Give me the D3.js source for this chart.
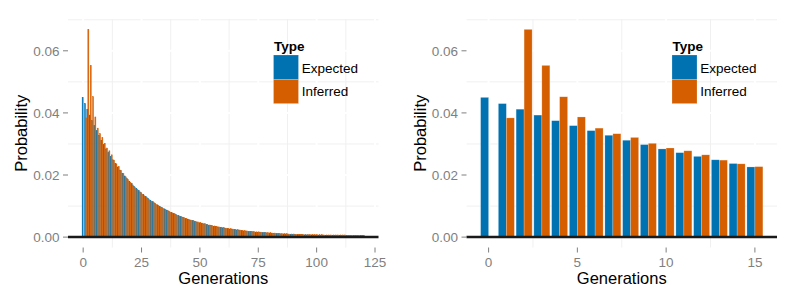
<!DOCTYPE html>
<html>
<head>
<meta charset="utf-8">
<script src="https://cdn.jsdelivr.net/npm/d3@7"></script>
<style>
  body { margin: 0; background: #fff; }
  svg { display: block; font-family: "Liberation Sans", Arial, sans-serif; }
</style>
</head>
<body>
<svg id="chart" width="797" height="299"></svg>
<script>
// probability per generation
const expected = [
  0.0450, 0.0430, 0.0412, 0.0393, 0.0375, 0.0359, 0.0343, 0.0328, 0.0312, 0.0298,
  0.0284, 0.0272, 0.0260, 0.0249, 0.0237, 0.0226, 0.0216, 0.0206, 0.0197, 0.0188,
  0.0180, 0.0172, 0.0164, 0.0157, 0.0150, 0.0143, 0.0137, 0.0131, 0.0125, 0.0119,
  0.0114, 0.0109, 0.0104, 0.0099, 0.0095, 0.0091, 0.0087, 0.0083, 0.0079, 0.0076,
  0.0072, 0.0069, 0.0066, 0.0063, 0.0060, 0.0058, 0.0055, 0.0053, 0.0050, 0.0048,
  0.0046, 0.0044, 0.0042, 0.0040, 0.0038, 0.0037, 0.0035, 0.0034, 0.0032, 0.0031,
  0.0030, 0.0028, 0.0027, 0.0026, 0.0025, 0.0024, 0.0023, 0.0022, 0.0021, 0.0020,
  0.0019, 0.0018, 0.0018, 0.0017, 0.0016, 0.0016, 0.0015, 0.0014, 0.0014, 0.0013,
  0.0013, 0.0012, 0.0012, 0.0011, 0.0011, 0.0010, 0.0010, 0.0010, 0.0009, 0.0009,
  0.0009, 0.0008, 0.0008, 0.0008, 0.0008, 0.0007, 0.0007, 0.0007, 0.0007, 0.0007,
  0.0006, 0.0006, 0.0006, 0.0006, 0.0006, 0.0006, 0.0006, 0.0006, 0.0006, 0.0006,
  0.0006, 0.0005, 0.0005, 0.0005, 0.0005, 0.0005, 0.0005, 0.0005, 0.0005, 0.0005,
  0.0005
];

const inferred = [
  0.0000, 0.0384, 0.0669, 0.0553, 0.0452, 0.0387, 0.0351, 0.0333, 0.0321, 0.0302,
  0.0287, 0.0278, 0.0265, 0.0248, 0.0236, 0.0227, 0.0215, 0.0204, 0.0194, 0.0185,
  0.0176, 0.0168, 0.0160, 0.0153, 0.0146, 0.0139, 0.0133, 0.0127, 0.0121, 0.0116,
  0.0111, 0.0106, 0.0101, 0.0097, 0.0093, 0.0089, 0.0085, 0.0081, 0.0078, 0.0075,
  0.0071, 0.0068, 0.0065, 0.0063, 0.0060, 0.0057, 0.0055, 0.0053, 0.0051, 0.0049,
  0.0047, 0.0045, 0.0043, 0.0041, 0.0039, 0.0038, 0.0036, 0.0035, 0.0033, 0.0032,
  0.0031, 0.0029, 0.0028, 0.0027, 0.0026, 0.0025, 0.0024, 0.0023, 0.0022, 0.0021,
  0.0020, 0.0019, 0.0019, 0.0018, 0.0017, 0.0017, 0.0016, 0.0015, 0.0015, 0.0014,
  0.0014, 0.0013, 0.0013, 0.0012, 0.0012, 0.0011, 0.0011, 0.0011, 0.0010, 0.0010,
  0.0010, 0.0009, 0.0009, 0.0009, 0.0009, 0.0009, 0.0008, 0.0008, 0.0008, 0.0008,
  0.0008, 0.0008, 0.0008, 0.0007, 0.0007, 0.0007, 0.0007, 0.0007, 0.0007, 0.0007,
  0.0007, 0.0007, 0.0007, 0.0006, 0.0006, 0.0006, 0.0006, 0.0006, 0.0006, 0.0006,
  0.0006
];

const seriesNames = ["Expected", "Inferred"];
const seriesColors = ["#0072B2", "#D55E00"];
const yTicks = [0, 0.02, 0.04, 0.06];
const xTicksFull = [0, 25, 50, 75, 100, 125];
const xTicksZoom = [0, 5, 10, 15];

const svg = d3.select("#chart");
const barW = 0.9;
const panelTop = 19, panelBottom = 247.5, panelWidth = 310.5;

// ggplot-style 5% padding
function expand(lo, hi) {
  const pad = (hi - lo) * 0.05;
  return [lo - pad, hi + pad];
}

const yMax = d3.max(inferred.concat(expected));
const y = d3.scaleLinear().domain(expand(0, yMax)).range([panelBottom, panelTop]);

function drawPanel(left, count, xTicks) {
  const g = svg.append("g");
  const x = d3.scaleLinear()
    .domain(expand(-barW / 2, count - 1 + barW / 2))
    .range([left, left + panelWidth]);
  const [x0, x1] = x.range();
  const half = x(barW / 2) - x(0);

  // minor grid, then white major grid over it
  const yMinor = [0.01, 0.03, 0.05, 0.07];
  const step = xTicks[1] - xTicks[0];
  const xMinor = xTicks.map(t => t + step / 2).filter(t => x(t) > x0 && x(t) < x1);

  g.selectAll(".hminor").data(yMinor).enter().append("line")
    .attr("x1", x0).attr("x2", x1)
    .attr("y1", d => y(d)).attr("y2", d => y(d))
    .attr("stroke", "#f0f0f0").attr("stroke-width", 1);
  g.selectAll(".vminor").data(xMinor).enter().append("line")
    .attr("x1", d => x(d)).attr("x2", d => x(d))
    .attr("y1", panelTop).attr("y2", panelBottom)
    .attr("stroke", "#f0f0f0").attr("stroke-width", 1);
  g.selectAll(".hmajor").data(yTicks).enter().append("line")
    .attr("x1", x0).attr("x2", x1)
    .attr("y1", d => y(d)).attr("y2", d => y(d))
    .attr("stroke", "#fff").attr("stroke-width", 2);
  g.selectAll(".vmajor").data(xTicks.filter(t => x(t) <= x1)).enter().append("line")
    .attr("x1", d => x(d)).attr("x2", d => x(d))
    .attr("y1", panelTop).attr("y2", panelBottom)
    .attr("stroke", "#fff").attr("stroke-width", 2);

  // bars, dodged
  const wide = count < 30;
  [expected, inferred].forEach((vals, si) => {
    g.selectAll(".bar" + si)
      .data(vals.slice(0, count).map((v, i) => ({ gen: i, v: v })).filter(d => d.v > 0))
      .enter().append("rect")
      .attr("x", d => si === 0 ? x(d.gen) - half : x(d.gen))
      .attr("width", half)
      .attr("y", d => y(d.v))
      .attr("height", d => y(0) - y(d.v))
      .attr("fill", seriesColors[si])
      .attr("stroke", wide ? "#fff" : seriesColors[si])
      .attr("stroke-opacity", wide ? 0.35 : 1)
      .attr("stroke-width", wide ? 0.6 : 0.45);
  });

  // zero line
  g.append("line")
    .attr("x1", x0).attr("x2", x1)
    .attr("y1", y(0)).attr("y2", y(0))
    .attr("stroke", "#1a1a1a").attr("stroke-width", 2.5);

  // y axis
  g.selectAll(".ytick").data(yTicks).enter().append("line")
    .attr("x1", x0 - 5).attr("x2", x0)
    .attr("y1", d => y(d)).attr("y2", d => y(d))
    .attr("stroke", "#7f7f7f").attr("stroke-width", 1);
  g.selectAll(".ylab").data(yTicks).enter().append("text")
    .attr("x", x0 - 8.5).attr("y", d => y(d)).attr("dy", "0.36em")
    .attr("text-anchor", "end").attr("font-size", 13.5).attr("fill", "#7f7f7f")
    .text(d => d3.format(".2f")(d));

  // x axis
  g.selectAll(".xtick").data(xTicks).enter().append("line")
    .attr("x1", d => x(d)).attr("x2", d => x(d))
    .attr("y1", panelBottom).attr("y2", panelBottom + 5)
    .attr("stroke", "#7f7f7f").attr("stroke-width", 1);
  g.selectAll(".xlab").data(xTicks).enter().append("text")
    .attr("x", d => x(d)).attr("y", 267)
    .attr("text-anchor", "middle").attr("font-size", 13.5).attr("fill", "#7f7f7f")
    .text(d => d);

  // axis titles
  g.append("text")
    .attr("x", (x0 + x1) / 2).attr("y", 284)
    .attr("text-anchor", "middle").attr("font-size", 16.5).attr("fill", "#000")
    .text("Generations");
  g.append("text")
    .attr("transform", `translate(${x0 - 41},${(panelTop + panelBottom) / 2}) rotate(-90)`)
    .attr("text-anchor", "middle").attr("font-size", 16.5).attr("fill", "#000")
    .text("Probability");

  // legend
  const lg = g.append("g").attr("transform", `translate(${x0 + 205.5},0)`);
  lg.append("text")
    .attr("x", 0.5).attr("y", 50.5)
    .attr("font-size", 13.5).attr("font-weight", "bold").attr("fill", "#000")
    .text("Type");
  seriesNames.forEach((name, i) => {
    lg.append("rect")
      .attr("x", 0).attr("y", 55 + i * 24.3)
      .attr("width", 25).attr("height", 24.3)
      .attr("fill", seriesColors[i])
      .attr("stroke", "#fff").attr("stroke-opacity", 0.35).attr("stroke-width", 0.6);
    lg.append("text")
      .attr("x", 28.3).attr("y", 72.5 + i * 23.8)
      .attr("font-size", 13.5).attr("fill", "#000")
      .text(name);
  });
}

drawPanel(68, expected.length, xTicksFull);
drawPanel(466.5, 16, xTicksZoom);
</script>
</body>
</html>
